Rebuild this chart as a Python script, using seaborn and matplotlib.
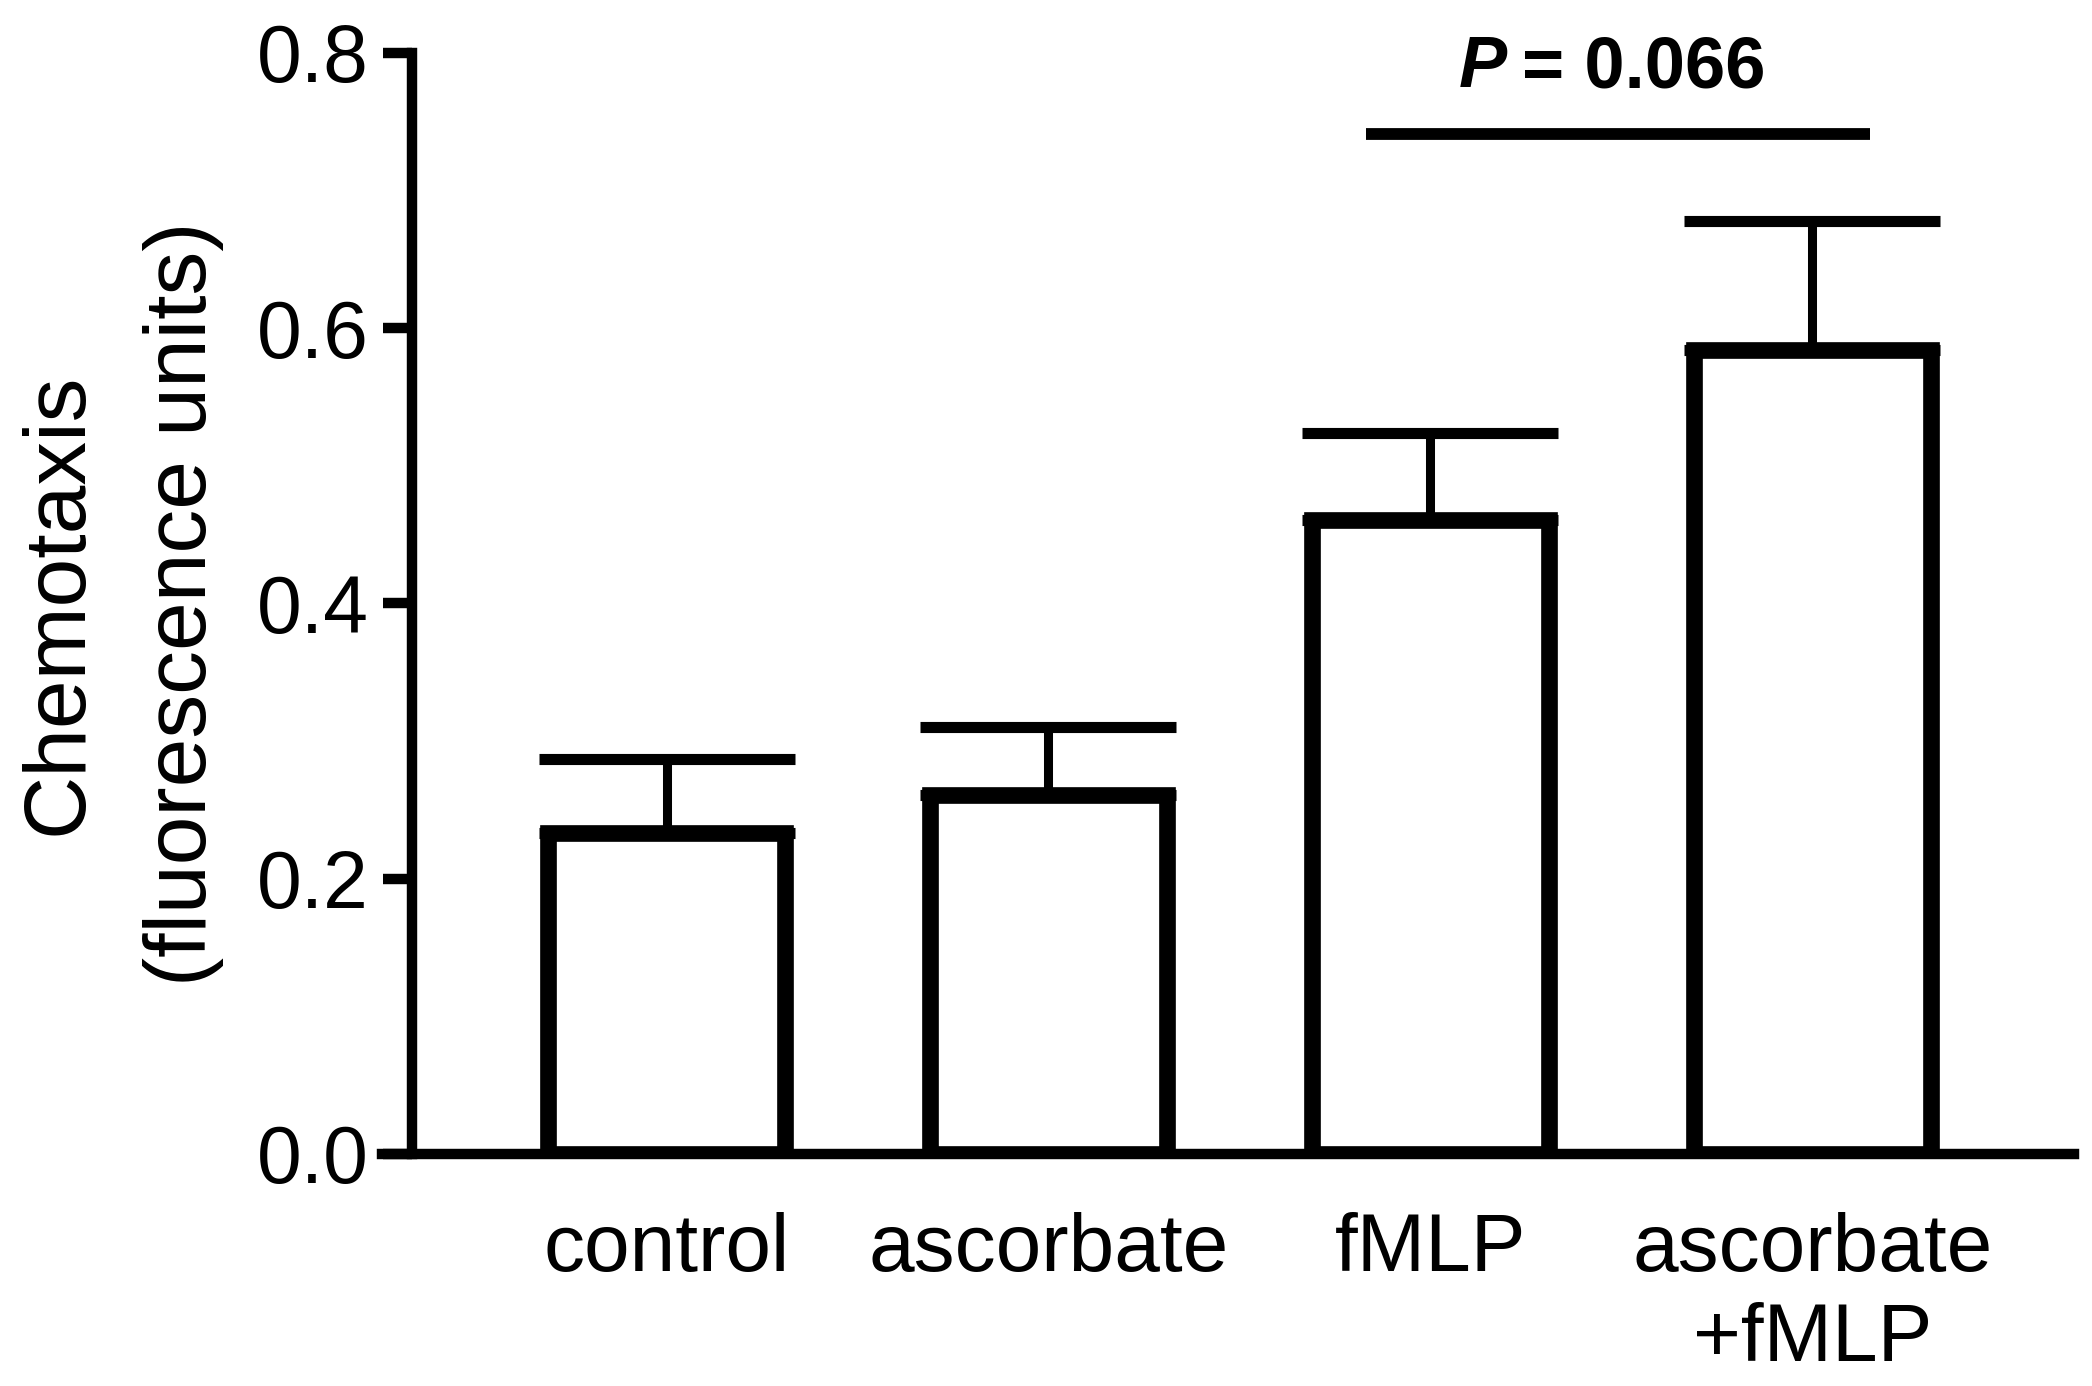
import matplotlib
matplotlib.use("Agg")
import matplotlib.pyplot as plt
import seaborn as sns
import numpy as np
import pandas as pd

categories = ["control", "ascorbate", "fMLP", "ascorbate\n+fMLP"]
means = [0.233, 0.261, 0.461, 0.584]
sem_upper = [0.054, 0.049, 0.063, 0.094]
yticks = [0.0, 0.2, 0.4, 0.6, 0.8]
ytick_labels = ["0.0", "0.2", "0.4", "0.6", "0.8"]
p_text = "= 0.066"
p_pair = ["fMLP", "ascorbate\n+fMLP"]

sns.set_style("ticks")
plt.rcParams["font.family"] = ["Liberation Sans", "DejaVu Sans"]
plt.rcParams["text.color"] = "black"
plt.rcParams["axes.labelcolor"] = "black"

df = pd.DataFrame({"group": categories, "value": means})

fig = plt.figure(figsize=(20.92, 13.86), dpi=100)
ax = fig.add_axes([0.1826, 0.1674, 0.9914 - 0.1826, 0.9618 - 0.1674])

sns.barplot(data=df, x="group", y="value", order=categories, color="white",
            saturation=1, edgecolor="black", linewidth=12, width=0.62,
            errorbar=None, ax=ax, zorder=2)

xpos = np.arange(len(categories))
ax.errorbar(xpos, means, yerr=[np.zeros(len(means)), sem_upper], fmt="none",
            ecolor="black", elinewidth=6.5, capsize=92, capthick=8, zorder=1)

ax.set_xlim(-0.745, 3.685)
ax.set_ylim(0, 0.8)
ax.set_yticks(yticks)
ax.set_yticklabels(ytick_labels)

for s in ["top", "right"]:
    ax.spines[s].set_visible(False)
ax.spines["left"].set_position(("data", -0.666))
ax.spines["left"].set_bounds(0, 0.8)
for s in ["left", "bottom"]:
    ax.spines[s].set_linewidth(7.5)
    ax.spines[s].set_color("black")

ax.tick_params(axis="y", length=21, width=7.5, pad=10, labelsize=58, colors="black")
ax.tick_params(axis="x", length=0, pad=42, labelsize=59, colors="black")
for lab in ax.get_xticklabels():
    lab.set_linespacing(1.24)

ax.set_xlabel("")
ax.set_ylabel("Chemotaxis\n(fluorescence units)", fontsize=63, labelpad=24,
              linespacing=1.68, color="black")

# significance bracket
i1 = categories.index(p_pair[0])
i2 = categories.index(p_pair[1])
ax.plot([i1 - 0.17, i2 + 0.15], [0.741, 0.741], color="black", lw=8.5,
        solid_capstyle="butt", clip_on=False)
ax.text(2.20, 0.775, "P", fontsize=52, fontweight="bold", fontstyle="italic",
        ha="right", va="baseline", clip_on=False, color="black")
ax.text(2.24, 0.775, p_text, fontsize=52, fontweight="bold",
        ha="left", va="baseline", clip_on=False, color="black")

fig.savefig("out.png", dpi=100, facecolor="white")
